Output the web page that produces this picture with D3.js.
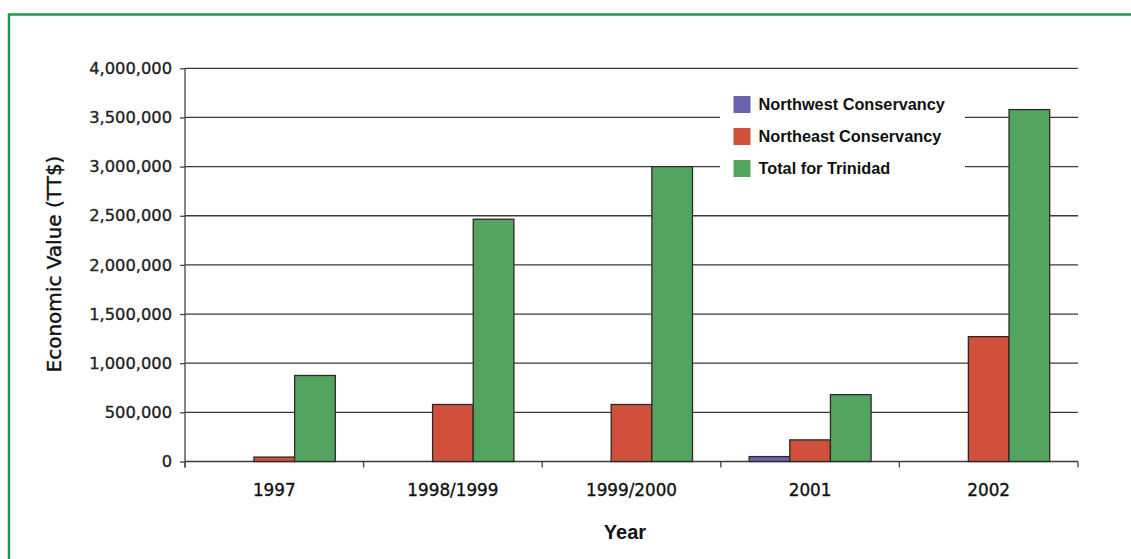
<!DOCTYPE html>
<html>
<head>
<meta charset="utf-8">
<script src="https://cdn.jsdelivr.net/npm/d3@7"></script>
<style>
  html, body { margin: 0; padding: 0; background: #fff; }
  svg { display: block; }
</style>
</head>
<body>
<div id="chart"></div>
<script>
// data
const years = ['1997', '1998/1999', '1999/2000', '2001', '2002'];
const seriesNames = ['Northwest Conservancy', 'Northeast Conservancy', 'Total for Trinidad'];
const northwest = [0, 0, 0, 50000, 0];
const northeast = [45000, 580000, 580000, 220000, 1270000];
const totalTrinidad = [875000, 2465000, 3000000, 680000, 3580000];
const yTicks = [0, 500000, 1000000, 1500000, 2000000, 2500000, 3000000, 3500000, 4000000];

const colors = ['#6a63b0', '#d1503c', '#52a45e'];

const W = 1131, H = 559;
const m = { left: 185, right: 1078, top: 68.3, bottom: 461.5 };

const svg = d3.select('#chart').append('svg')
  .attr('width', W).attr('height', H);

// green frame (top + left only)
svg.append('path')
  .attr('d', `M9,${H + 5} L9,14.5 L${W + 5},14.5`)
  .attr('fill', 'none').attr('stroke', '#1e9a4c').attr('stroke-width', 2.5);

const x0 = d3.scaleBand().domain(years).range([m.left, m.right])
  .paddingInner(0.317).paddingOuter(0.1585);
const x1 = d3.scaleBand().domain(seriesNames).range([0, x0.bandwidth()]);
const y = d3.scaleLinear().domain([0, 4000000]).range([m.bottom, m.top]);

// gridlines
svg.append('g').selectAll('line').data(yTicks).enter().append('line')
  .attr('x1', m.left).attr('x2', m.right)
  .attr('y1', d => y(d)).attr('y2', d => y(d))
  .attr('stroke', '#3a3a3a').attr('stroke-width', 1.3);

// y axis
const yAxis = svg.append('g').attr('transform', `translate(${m.left},0)`)
  .call(d3.axisLeft(y).tickValues(yTicks).tickSize(5).tickPadding(8)
    .tickFormat(d3.format(',')));
yAxis.select('.domain').remove();
yAxis.append('line').attr('x1', 0).attr('x2', 0).attr('y1', m.top).attr('y2', m.bottom + 6)
  .attr('stroke', '#444').attr('stroke-width', 1.3);
yAxis.selectAll('.tick line').attr('stroke', '#444').attr('stroke-width', 1.3);
yAxis.selectAll('.tick text')
  .attr('font-family', 'DejaVu Sans').attr('font-size', 16.3).attr('fill', '#222')
  .attr('stroke', '#222').attr('stroke-width', 0.35);

// x axis: category boundary ticks
const bounds = years.map(d => x0(d) - x0.step() * 0.1585).concat([m.right]);
svg.append('g').selectAll('line').data(bounds).enter().append('line')
  .attr('x1', d => d).attr('x2', d => d)
  .attr('y1', m.bottom).attr('y2', m.bottom + 6)
  .attr('stroke', '#444').attr('stroke-width', 1.3);
svg.append('g').selectAll('text').data(years).enter().append('text')
  .attr('x', d => x0(d) + x0.bandwidth() / 2)
  .attr('y', 496)
  .attr('text-anchor', 'middle')
  .attr('font-family', 'DejaVu Sans').attr('font-size', 16.8).attr('fill', '#111')
  .attr('stroke', '#111').attr('stroke-width', 0.35)
  .text(d => d);

// bars
const table = years.map((yr, i) => ({
  year: yr,
  values: [northwest[i], northeast[i], totalTrinidad[i]]
}));
const groups = svg.append('g').selectAll('g').data(table).enter().append('g')
  .attr('transform', d => `translate(${x0(d.year)},0)`);
groups.selectAll('rect')
  .data(d => d.values.map((v, k) => ({ v, k })).filter(e => e.v > 0))
  .enter().append('rect')
  .attr('x', d => x1(seriesNames[d.k]))
  .attr('y', d => y(d.v))
  .attr('width', x1.bandwidth())
  .attr('height', d => y(0) - y(d.v))
  .attr('fill', d => colors[d.k])
  .attr('stroke', '#2a2a2a').attr('stroke-width', 1.3);

// legend
const lg = svg.append('g');
lg.append('rect').attr('x', 720).attr('y', 84).attr('width', 245).attr('height', 104).attr('fill', '#fff');
seriesNames.forEach((name, i) => {
  lg.append('rect').attr('x', 733.5).attr('y', 96 + i * 32).attr('width', 17).attr('height', 17)
    .attr('fill', colors[i]);
  lg.append('text').attr('x', 758.5).attr('y', 110 + i * 32)
    .attr('font-family', 'Liberation Sans, Arial').attr('font-weight', 'bold')
    .attr('font-size', 16.3).attr('fill', '#111')
    .text(name);
});

// axis titles
svg.append('text')
  .attr('transform', `translate(61,264) rotate(-90)`)
  .attr('text-anchor', 'middle')
  .attr('font-family', 'DejaVu Sans').attr('font-size', 20).attr('fill', '#111')
  .attr('stroke', '#111').attr('stroke-width', 0.4)
  .text('Economic Value (TT$)');
svg.append('text')
  .attr('x', 625).attr('y', 539)
  .attr('text-anchor', 'middle')
  .attr('font-family', 'Liberation Sans, Arial').attr('font-weight', 'bold')
  .attr('font-size', 20).attr('fill', '#111')
  .text('Year');
</script>
</body>
</html>
